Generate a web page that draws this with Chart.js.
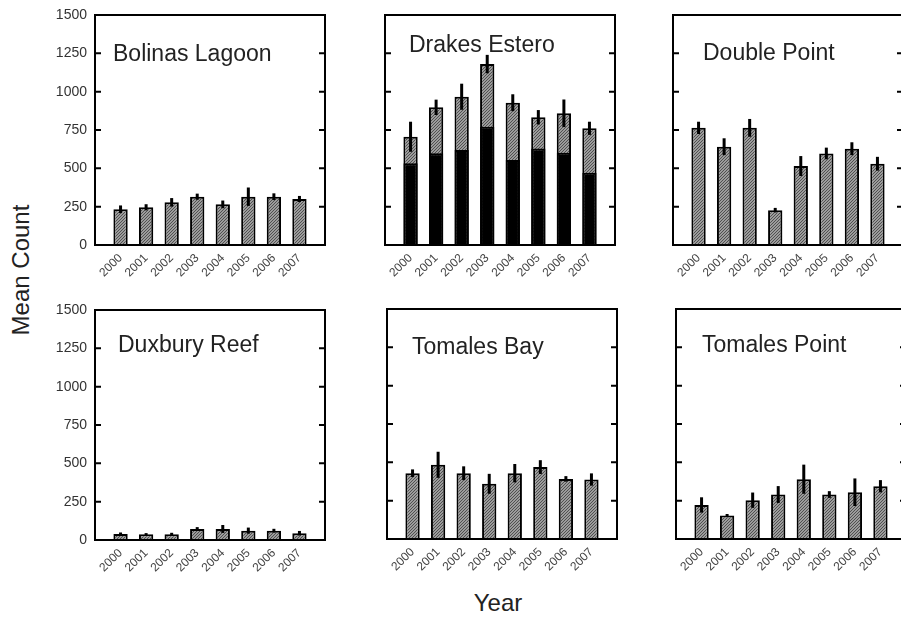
<!DOCTYPE html>
<html>
<head>
<meta charset="utf-8">
<script src="https://cdn.jsdelivr.net/npm/chart.js@4.4.1/dist/chart.umd.min.js"></script>
<style>
  html, body { margin:0; padding:0; background:#fff; width:901px; height:617px; overflow:hidden; position:relative; font-family:"Liberation Sans", Arial, sans-serif; }
  canvas { position:absolute; }
  .lbl { position:absolute; color:#222; font-size:24px; white-space:nowrap; }
  #ylab { left:21px; top:270px; transform:translate(-50%,-50%) rotate(-90deg); }
  #xlab { left:498px; top:603px; transform:translate(-50%,-50%); }
</style>
</head>
<body>
<div id="ylab" class="lbl">Mean Count</div>
<div id="xlab" class="lbl">Year</div>
<script>
// ---- data ----
const years = ['2000','2001','2002','2003','2004','2005','2006','2007'];
const yTicks = [0, 250, 500, 750, 1000, 1250, 1500];

const bolinas      = [233, 246, 278, 315, 265, 315, 315, 300];
const bolinasErr   = [25, 20, 28, 20, 25, 60, 22, 20];

const drakesTotal  = [706, 898, 967, 1180, 928, 833, 859, 761];
const drakesBlack  = [533, 598, 620, 772, 554, 630, 602, 472];
const drakesErr    = [98, 50, 85, 60, 55, 47, 90, 43];

const doublePoint    = [764, 641, 764, 227, 515, 597, 628, 530];
const doublePointErr = [40, 55, 58, 15, 65, 38, 42, 45];

const duxbury      = [39, 37, 37, 72, 72, 61, 61, 44];
const duxburyErr   = [10, 8, 10, 12, 26, 20, 12, 15];

const tomalesBay    = [429, 484, 429, 360, 429, 469, 392, 388];
const tomalesBayErr = [25, 85, 45, 65, 60, 45, 18, 40];

const tomalesPoint    = [222, 153, 253, 290, 390, 290, 305, 344];
const tomalesPointErr = [50, 10, 50, 55, 95, 22, 90, 40];

// ---- layout ----
const panels = [
  {name:'Bolinas Lagoon', values:bolinas, errors:bolinasErr, left:95, top:15, tx:18, ty:46, showY:true},
  {name:'Drakes Estero', values:drakesTotal, inner:drakesBlack, errors:drakesErr, left:385, top:15, tx:24, ty:37, showY:false},
  {name:'Double Point', values:doublePoint, errors:doublePointErr, left:673, top:15, tx:30, ty:45, showY:false},
  {name:'Duxbury Reef', values:duxbury, errors:duxburyErr, left:95, top:310, tx:23, ty:42, showY:true},
  {name:'Tomales Bay', values:tomalesBay, errors:tomalesBayErr, left:387, top:309, tx:25, ty:45, showY:false},
  {name:'Tomales Point', values:tomalesPoint, errors:tomalesPointErr, left:676, top:309, tx:26, ty:43, showY:false},
];
const PW = 230, PH = 230, YAXW = 60, XAXH = 50, PADT = 10, PADR = 10;
const FONT = '"Liberation Sans", Arial, sans-serif';

function makeHatch() {
  const n = 3;
  const c = document.createElement('canvas');
  c.width = n; c.height = n;
  const g = c.getContext('2d');
  g.fillStyle = '#9c9c9c';
  g.fillRect(0, 0, n, n);
  g.fillStyle = '#505050';
  // one diagonal pixel line per tile
  for (let i = 0; i < n; i++) g.fillRect(i, n - 1 - i, 1, 1);
  return g.createPattern(c, 'repeat');
}
const hatch = makeHatch();

const labels = [''].concat(years, ['']);
const pad = arr => [null].concat(arr, [null]);

const decorPlugin = {
  id: 'decor',
  afterDatasetsDraw(chart) {
    const p = chart.options.plugins.decor.panel;
    const ctx = chart.ctx;
    const ys = chart.scales.y;
    const a = chart.chartArea;
    const meta = chart.getDatasetMeta(chart.data.datasets.length - 1);
    ctx.save();
    // error bars
    ctx.strokeStyle = '#000';
    ctx.lineWidth = 3;
    ctx.lineCap = 'butt';
    p.values.forEach((v, i) => {
      const el = meta.data[i + 1];
      if (!el) return;
      const e = p.errors[i];
      ctx.beginPath();
      ctx.moveTo(el.x, ys.getPixelForValue(v - e));
      ctx.lineTo(el.x, ys.getPixelForValue(v + e));
      ctx.stroke();
    });
    // frame
    ctx.lineWidth = 2;
    ctx.strokeRect(a.left, a.top, a.right - a.left, a.bottom - a.top);
    // inward ticks
    ys.ticks.forEach(t => {
      const y = ys.getPixelForValue(t.value);
      ctx.beginPath();
      ctx.moveTo(a.left, y); ctx.lineTo(a.left + 6, y);
      ctx.moveTo(a.right, y); ctx.lineTo(a.right - 6, y);
      ctx.stroke();
    });
    // title
    ctx.fillStyle = '#222';
    ctx.font = '23px ' + FONT;
    ctx.textAlign = 'left';
    ctx.textBaseline = 'alphabetic';
    ctx.fillText(p.name, a.left + p.tx, a.top + p.ty);
    ctx.restore();
  }
};

panels.forEach(p => {
  const cv = document.createElement('canvas');
  const w = YAXW + PW + PADR, h = PADT + PH + XAXH;
  cv.width = w; cv.height = h;
  cv.style.left = (p.left - YAXW) + 'px';
  cv.style.top = (p.top - PADT) + 'px';
  cv.style.width = w + 'px'; cv.style.height = h + 'px';
  document.body.appendChild(cv);

  const datasets = [];
  if (p.inner) {
    datasets.push({
      data: pad(p.inner), backgroundColor: '#000', borderColor: '#000', borderWidth: 2,
      grouped: false, categoryPercentage: 1, barPercentage: 0.56
    });
  }
  datasets.push({
    data: pad(p.values), backgroundColor: hatch, borderColor: '#000', borderWidth: 2,
    grouped: false, categoryPercentage: 1, barPercentage: 0.56
  });

  new Chart(cv, {
    type: 'bar',
    data: { labels: labels, datasets: datasets },
    options: {
      responsive: false, animation: false, devicePixelRatio: 1,
      layout: { padding: { top: PADT, right: PADR, left: 0, bottom: 0 } },
      plugins: { legend: { display: false }, tooltip: { enabled: false }, title: { display: false },
                 decor: { panel: p } },
      scales: {
        x: {
          type: 'category', offset: false,
          grid: { display: false, drawTicks: false }, border: { display: false },
          ticks: { autoSkip: false, maxRotation: 45, minRotation: 45, padding: 6,
                   color: '#444', font: { family: FONT, size: 12 } },
          afterFit: s => { s.height = XAXH; s.paddingLeft = 0; s.paddingRight = 0; s.paddingTop = 0; s.paddingBottom = 0; }
        },
        y: {
          min: 0, max: 1500,
          afterBuildTicks: s => { s.ticks = yTicks.map(v => ({ value: v })); },
          grid: { display: false, drawTicks: false }, border: { display: false },
          ticks: { display: p.showY, padding: 8, color: '#333', font: { family: FONT, size: 14 },
                   callback: v => String(v) },
          afterFit: s => { s.width = YAXW; s.paddingLeft = 0; s.paddingRight = 0; s.paddingTop = 0; s.paddingBottom = 0; }
        }
      }
    },
    plugins: [decorPlugin]
  });
});
</script>
</body>
</html>
